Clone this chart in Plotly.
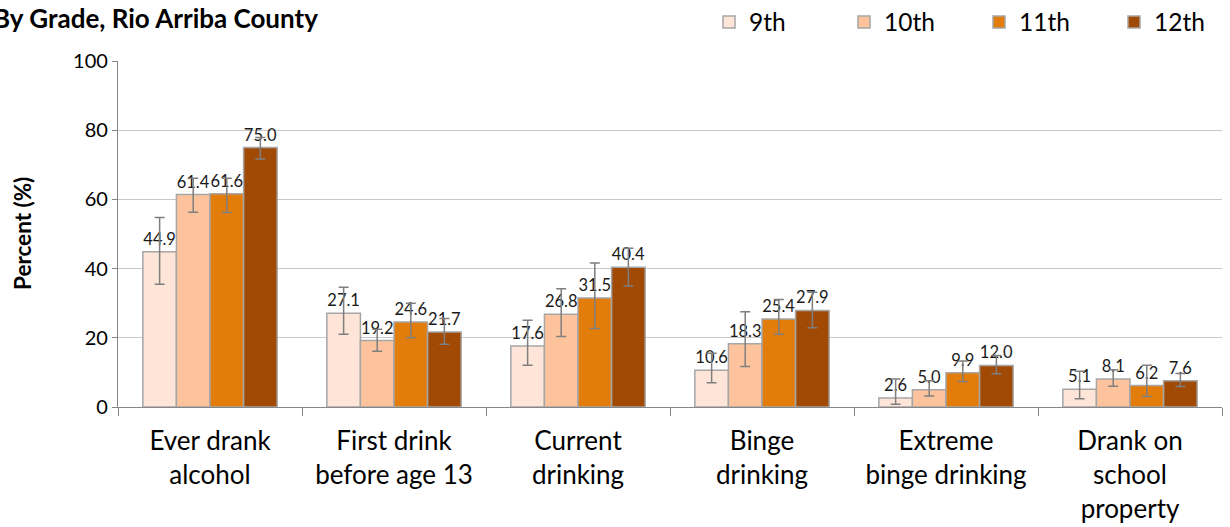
import plotly.graph_objects as go

categories = ["Ever drank<br>alcohol", "First drink<br>before age 13", "Current<br>drinking",
              "Binge<br>drinking", "Extreme<br>binge drinking", "Drank on<br>school<br>property"]
grades = ["9th", "10th", "11th", "12th"]

g9 = [44.9, 27.1, 17.6, 10.6, 2.6, 5.1]
g10 = [61.4, 19.2, 26.8, 18.3, 5.0, 8.1]
g11 = [61.6, 24.6, 31.5, 25.4, 9.9, 6.2]
g12 = [75.0, 21.7, 40.4, 27.9, 12.0, 7.6]

lo9 = [35.5, 21.0, 12.1, 7.0, 0.8, 2.4]
hi9 = [54.8, 34.6, 25.1, 15.5, 8.1, 10.3]
lo10 = [56.3, 16.1, 20.4, 11.7, 3.2, 6.0]
hi10 = [66.1, 22.5, 34.2, 27.5, 7.6, 10.8]
lo11 = [56.2, 20.0, 22.7, 21.0, 7.4, 3.0]
hi11 = [66.1, 30.0, 41.6, 31.1, 13.3, 12.1]
lo12 = [71.7, 18.1, 35.0, 22.9, 9.6, 5.9]
hi12 = [77.9, 25.6, 45.9, 33.2, 14.9, 9.7]

colors = ["#FEE5D8", "#FDC39C", "#E27D0B", "#A14A06"]
FONT = "Lato"

fig = go.Figure()
series = [(g9, lo9, hi9), (g10, lo10, hi10), (g11, lo11, hi11), (g12, lo12, hi12)]
for name, col, (vals, lo, hi) in zip(grades, colors, series):
    fig.add_trace(go.Bar(
        name=name, x=categories, y=vals,
        marker=dict(color=col, line=dict(color="#A6A6A6", width=1.5)),
        text=[f"{v:.1f}" for v in vals], textposition="outside",
        textfont=dict(family=FONT, size=16.5, color="#1a1a1a"),
        constraintext="none", cliponaxis=False,
        error_y=dict(type="data", symmetric=False,
                     array=[h - v for h, v in zip(hi, vals)],
                     arrayminus=[v - l for v, l in zip(vals, lo)],
                     color="#7F7F7F", thickness=1.5, width=5),
    ))

fig.update_layout(
    width=1230, height=527,
    margin=dict(l=118, r=8, t=61, b=120, autoexpand=False),
    paper_bgcolor="white", plot_bgcolor="white",
    barmode="group", bargap=0.27, bargroupgap=0,
    font=dict(family=FONT, color="#000000"),
    legend=dict(orientation="h", x=(709 - 118) / 1104, xanchor="left",
                y=1 + (61 - 22) / 346, yanchor="middle",
                font=dict(family=FONT, size=24.5, color="#000000"),
                entrywidth=90, entrywidthmode="pixels", bgcolor="rgba(0,0,0,0)"),
    xaxis=dict(showline=True, linecolor="#868686", linewidth=1.3,
               ticks="outside", tickson="boundaries", ticklen=8, tickcolor="#868686",
               ticklabelstandoff=11,
               tickfont=dict(family=FONT, size=26, color="#000000"), fixedrange=True),
    yaxis=dict(range=[0, 100], dtick=20, showline=True, linecolor="#868686", linewidth=1.3,
               ticks="outside", ticklen=5, tickcolor="#868686",
               gridcolor="#C8C8C8", gridwidth=1.3, zeroline=False,
               tickfont=dict(family=FONT, size=20, color="#000000"), fixedrange=True),
    annotations=[
        dict(text="<b>By Grade, Rio Arriba County</b>", xref="paper", yref="paper",
             x=(320 - 118) / 1104, y=1 + (61 - 18) / 346, xanchor="right", yanchor="middle",
             showarrow=False, font=dict(family=FONT, size=26, color="#000000")),
        dict(text="<b>Percent (%)</b>", xref="paper", yref="paper",
             x=(22 - 118) / 1104, y=0.5, xanchor="center", yanchor="middle", textangle=-90,
             showarrow=False, font=dict(family=FONT, size=22.5, color="#000000")),
    ],
)

fig.write_html("out.html", config={"displayModeBar": False},
               post_script="document.body.style.margin='0';")
